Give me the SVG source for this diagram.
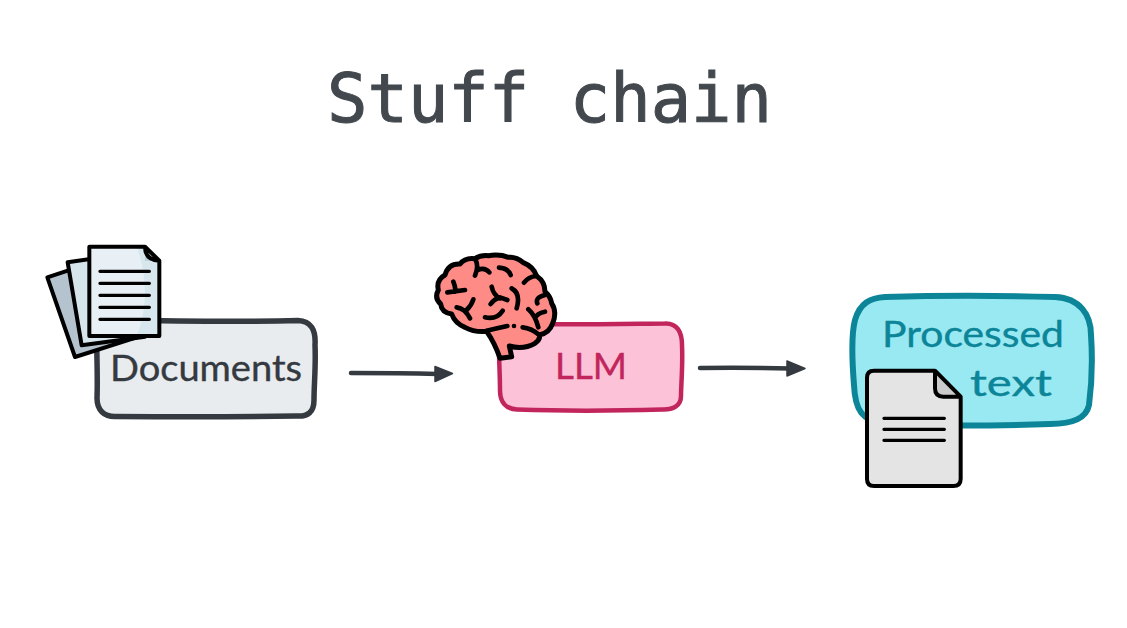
<svg xmlns="http://www.w3.org/2000/svg" width="1127" height="628" viewBox="0 0 1127 628">
<style>
.hand{font-family:"Lato","Open Sans",sans-serif;font-weight:400;font-size:37px;stroke-width:.4;stroke-linejoin:round}
.title{font-family:"DejaVu Sans Mono","Liberation Mono",monospace;font-size:67px;fill:#42484d;stroke:#42484d;stroke-width:1}
.conn{fill:none;stroke:#343a40;stroke-width:4.500;stroke-linecap:round}
.head{fill:#343a40;stroke:#343a40;stroke-width:1.500;stroke-linejoin:round}
.ink{fill:none;stroke:#000;stroke-linecap:round;stroke-linejoin:round}
.br{fill:none;stroke:#000;stroke-width:14;stroke-linecap:round;stroke-linejoin:round}
</style>
<rect width="1127" height="628" fill="#fff"/>
<g id="title"><text class="title" x="327" y="122" textLength="445" lengthAdjust="spacingAndGlyphs">Stuff chain</text></g>

<g id="connectors">
<path class="conn" d="M351 373 Q400 373 438 374"/>
<path class="head" d="M435 366.500 L452.500 373.500 L435 381.500 Z"/>
<path class="conn" d="M700 368 Q750 367.500 790 368.500"/>
<path class="head" d="M787 361 L805 368.500 L787 376 Z"/>
</g>

<g id="documents">
<path d="M114 320 C170 321 240 322 298 320.500 C311 321 316 330 315 345 C316 365 314 385 314 400 C314 412 308 417 296 416 C240 417 170 417 116 416.500 C104 417 97 410 97 398 C98 375 96 345 97 325 Z" fill="#e9ecef" stroke="#343a40" stroke-width="5.500" stroke-linejoin="round"/>
<text class="hand" x="110" y="381" fill="#343a40" stroke="#343a40" textLength="192" lengthAdjust="spacingAndGlyphs">Documents</text>
<g transform="translate(30 230) scale(.33333)">
<path d="M52 142 L240 80 L320 322 L135 381 Z" fill="#b5c3cf" stroke="#000" stroke-width="12" stroke-linejoin="round"/>
<path d="M113 97 L300 70 L345 320 L155 346 Z" fill="#d6e4ec" stroke="#000" stroke-width="12" stroke-linejoin="round"/>
<path d="M178 50 H345 L388 92 V318 H178 Z" fill="#e8f0f5"/>
<path d="M320 50 H345 L388 92 V318 H320 Q370 190 320 50 Z" fill="#d8e6ee"/>
<path d="M345 50 V92 H388 Z" fill="#bccdd8"/>
<path class="ink" stroke-width="12" d="M178 50 H345 L388 92 V318 H178 Z M345 50 Q345 90 388 92"/>
<path class="ink" stroke-width="10" d="M210 124 H358 M210 160 H358 M210 196 H358 M210 232 H358 M210 268 H358"/>
</g>
</g>

<g id="llm">
<path d="M516 324 C570 325 620 324 665 323.500 C677 323 682 332 682 345 C683 365 681 385 681 396 C681 406 673 410 662 409.500 C610 411 560 411 517 409.500 C506 409 500 402 500 391 C500 370 498 345 499 330 Z" fill="#fcc2d7" stroke="#c2255c" stroke-width="4.500" stroke-linejoin="round"/>
<text class="hand" x="555" y="379" fill="#c2255c" stroke="#c2255c" textLength="72" lengthAdjust="spacingAndGlyphs">LLM</text>
<g transform="translate(420 240) scale(.33333)">
<path d="M240 355 L275 350 L268 318 Q310 330 345 310 Q362 298 358 285 Q388 280 398 250 Q412 215 395 190 Q392 170 375 155 Q375 125 350 108 Q340 80 310 68 Q290 50 265 52 Q240 42 205 47 Q180 45 165 56 Q135 52 120 72 Q85 70 75 105 Q48 120 55 150 Q42 175 62 192 Q65 218 95 222 Q105 250 135 262 Q165 278 200 274 Q225 310 240 355 Z" fill="#ff8b87" stroke="#000" stroke-width="15" stroke-linejoin="round"/>
<path class="br" d="M165 56 Q178 78 165 107 M172 90 Q195 80 208 97 M237 83 Q265 85 272 105 M312 128 Q325 110 350 108 M215 140 Q220 165 240 175 M262 180 L240 172 Q222 178 212 192 M275 145 Q303 160 290 205 M352 190 Q345 172 375 165 M325 208 Q345 225 355 262 M375 215 Q350 220 345 235 M82 157 L135 150 M100 125 Q108 145 105 155 M110 202 Q135 205 150 235 M160 178 Q155 195 140 210 M195 232 Q230 240 248 212 M200 272 Q230 265 262 258 M308 262 Q335 265 358 285"/>
<circle cx="282" cy="258" r="7"/>
</g>
</g>

<g id="processed-text">
<path d="M885 297 C950 295 1020 296 1055 297 C1080 298 1091 315 1091 335 C1093 365 1091 390 1089 405 C1086 420 1070 424 1050 424 C990 426 930 426 885 424 C862 421 855 410 854 385 C852 360 851 335 855 320 C860 303 870 298 885 297 Z" fill="#99e9f2" stroke="#0c8599" stroke-width="6" stroke-linejoin="round"/>
<text class="hand" x="882" y="347" fill="#0c8599" stroke="#0c8599" textLength="182" lengthAdjust="spacingAndGlyphs">Processed</text>
<text class="hand" x="970" y="396" fill="#0c8599" stroke="#0c8599" textLength="82" lengthAdjust="spacingAndGlyphs">text</text>
<g transform="translate(840 285) scale(.33333)">
<path d="M102 257 H285 L362 335 V582 Q362 603 340 603 H102 Q81 603 81 582 V278 Q81 257 102 257 Z" fill="#e4e4e4"/>
<path d="M285 257 V310 Q285 335 310 335 H362 Z" fill="#cbcbcb"/>
<path class="ink" stroke-width="12" d="M102 257 H285 L362 335 V582 Q362 603 340 603 H102 Q81 603 81 582 V278 Q81 257 102 257 Z M285 257 V310 Q285 335 310 335 H362"/>
<path class="ink" stroke-width="10" d="M132 400 H313 M132 433 H313 M132 466 H313"/>
</g>
</g>
</svg>
